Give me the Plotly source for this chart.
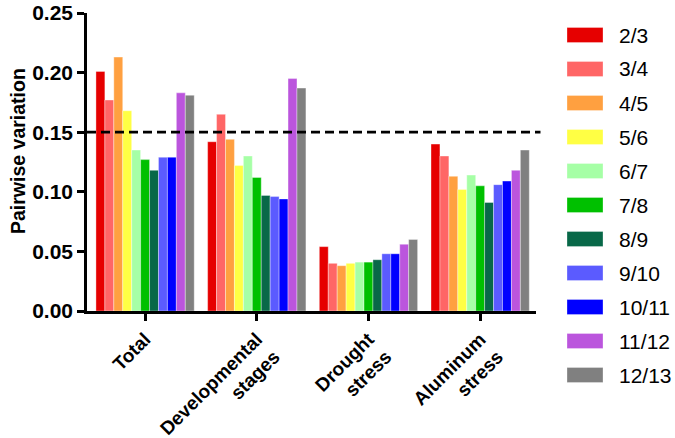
import plotly.graph_objects as go

categories = ["Total", "Developmental<br>stages", "Drought<br>stress", "Aluminum<br>stress"]
series_names = ["2/3", "3/4", "4/5", "5/6", "6/7", "7/8", "8/9", "9/10", "10/11", "11/12", "12/13"]

v_2_3 = [0.201, 0.142, 0.054, 0.140]
v_3_4 = [0.177, 0.165, 0.040, 0.130]
v_4_5 = [0.213, 0.144, 0.038, 0.113]
v_5_6 = [0.168, 0.122, 0.040, 0.102]
v_6_7 = [0.135, 0.130, 0.041, 0.114]
v_7_8 = [0.127, 0.112, 0.041, 0.105]
v_8_9 = [0.118, 0.097, 0.043, 0.091]
v_9_10 = [0.129, 0.096, 0.048, 0.106]
v_10_11 = [0.129, 0.094, 0.048, 0.109]
v_11_12 = [0.183, 0.195, 0.056, 0.118]
v_12_13 = [0.181, 0.187, 0.060, 0.135]
series_values = [v_2_3, v_3_4, v_4_5, v_5_6, v_6_7, v_7_8, v_8_9, v_9_10, v_10_11, v_11_12, v_12_13]

colors = ["#E60000", "#FF6666", "#FFA040", "#FFFF44", "#A6FFA6", "#00C000",
          "#086848", "#5B5BFF", "#0000FF", "#BB55DD", "#808080"]

threshold = 0.15
y_ticks = [0, 0.05, 0.10, 0.15, 0.20, 0.25]
y_title = "Pairwise variation"

FONT = "Arial, 'Liberation Sans', sans-serif"

W, H = 675, 438
L, R, T, B = 87, 139, 13, 127
PW, PH = W - L - R, H - T - B

fig = go.Figure()
for name, vals, col in zip(series_names, series_values, colors):
    fig.add_trace(go.Bar(
        x=categories, y=vals, name=name,
        marker=dict(color=col, line=dict(color="rgba(255,255,255,0.6)", width=0.6)),
        showlegend=False,
    ))

# dashed threshold line
fig.add_shape(type="line", xref="paper", yref="y", x0=0, x1=1.01, y0=threshold, y1=threshold,
              line=dict(color="black", width=2.8, dash="9px,5px"))

# custom legend
leg_top = 1 - (35 - T) / PH
leg_step = 34 / PH
for i, (name, col) in enumerate(zip(series_names, colors)):
    yc = leg_top - i * leg_step
    fig.add_shape(type="rect", xref="paper", yref="paper",
                  x0=(567 - L) / PW, x1=(603 - L) / PW,
                  y0=yc - 7.5 / PH, y1=yc + 7.5 / PH,
                  fillcolor=col, line=dict(color="rgba(255,255,255,0.5)", width=0.6))
    fig.add_annotation(xref="paper", yref="paper", x=(617 - L) / PW, y=yc,
                       text=name, showarrow=False, xanchor="left", yanchor="middle",
                       font=dict(family=FONT, size=21, color="black"))

# y-axis title
fig.add_annotation(xref="paper", yref="paper", x=(18 - L) / PW, y=1 - (151 - T) / PH,
                   text=y_title, showarrow=False, textangle=-90,
                   xanchor="center", yanchor="middle",
                   font=dict(family=FONT, size=19.5, weight="bold", color="black"))

fig.update_layout(
    width=W, height=H,
    margin=dict(l=L, r=R, t=T, b=B, pad=0),
    paper_bgcolor="white", plot_bgcolor="white",
    barmode="group", bargap=0.12, bargroupgap=0,
    font=dict(family=FONT, color="black"),
)
fig.update_yaxes(
    range=[0, 0.25], tickvals=y_ticks, tickformat=".2f",
    showgrid=False, zeroline=False, automargin=False,
    showline=True, linecolor="black", linewidth=2.5,
    ticks="outside", ticklen=7, tickwidth=2.5, tickcolor="black",
    tickfont=dict(family=FONT, size=21, weight="bold"),
)
fig.update_xaxes(
    range=[-0.52, 3.5], showgrid=False, zeroline=False, automargin=False,
    showline=True, linecolor="black", linewidth=2.5,
    ticks="outside", ticklen=7, tickwidth=2.5, tickcolor="black",
    tickangle=-45,
    tickfont=dict(family=FONT, size=19, weight="bold"),
)

fig.write_html(
    "out.html",
    config={"displayModeBar": False},
    post_script="document.body.style.margin='0';document.body.style.overflow='hidden';",
)
